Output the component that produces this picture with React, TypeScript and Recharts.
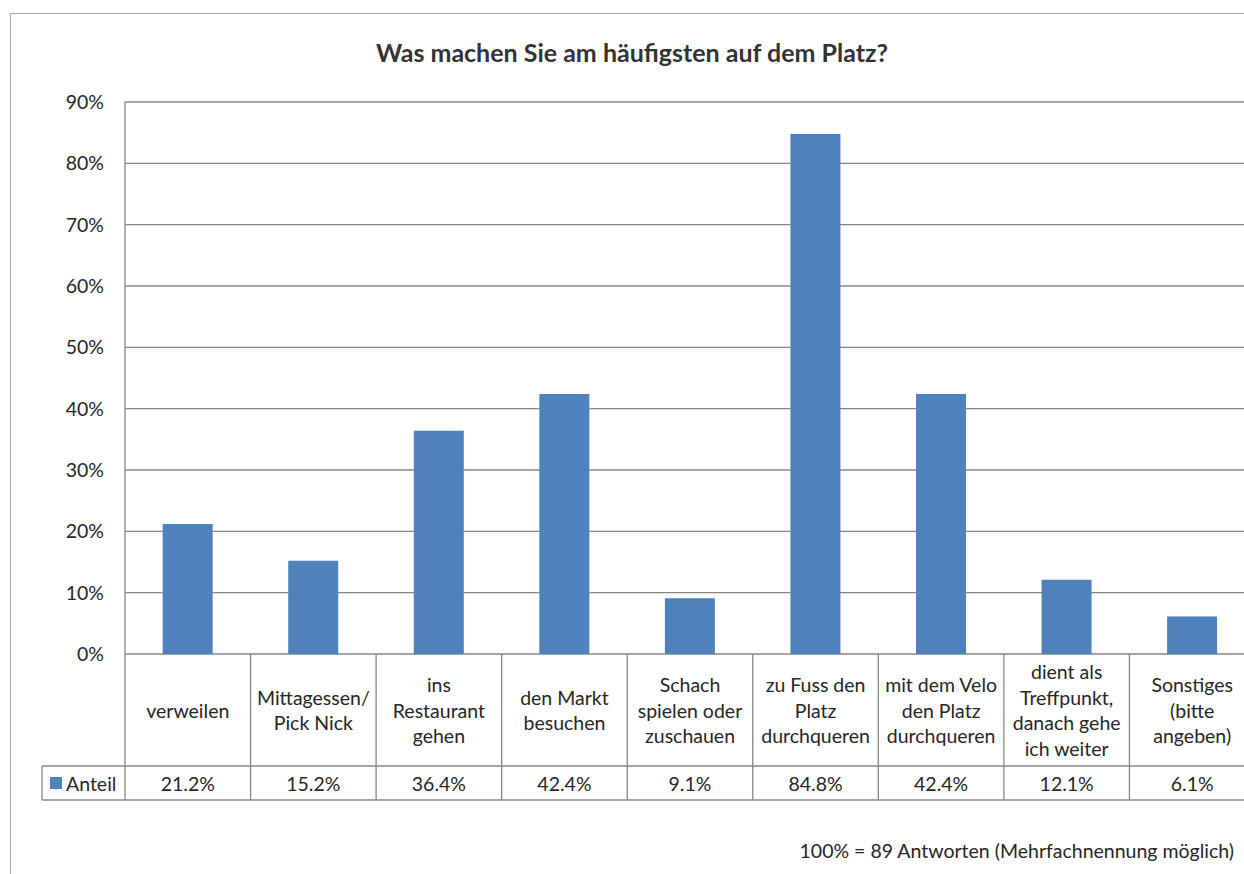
import React from "react";
import { BarChart, Bar, XAxis, YAxis, CartesianGrid } from "recharts";

const categories: string[] = [
  "verweilen",
  "Mittagessen/\nPick Nick",
  "ins\nRestaurant\ngehen",
  "den Markt\nbesuchen",
  "Schach\nspielen oder\nzuschauen",
  "zu Fuss den\nPlatz\ndurchqueren",
  "mit dem Velo\nden Platz\ndurchqueren",
  "dient als\nTreffpunkt,\ndanach gehe\nich weiter",
  "Sonstiges\n(bitte\nangeben)",
];
const anteil: number[] = [21.2, 15.2, 36.4, 42.4, 9.1, 84.8, 42.4, 12.1, 6.1];
const yTicks: number[] = [0, 10, 20, 30, 40, 50, 60, 70, 80, 90];
const seriesName = "Anteil";
const title = "Was machen Sie am häufigsten auf dem Platz?";
const footnote = "100% = 89 Antworten (Mehrfachnennung möglich)";

const data = categories.map((c, i) => ({ name: c, value: anteil[i] }));

const FONT = "Lato, 'Open Sans', sans-serif";
const TEXT = "#262626";
const LINE = "#868686";
const BLUE = "#4F81BD";

const CHART_W = 1300;
const CHART_H = 874;
const M_TOP = 102;
const M_RIGHT = 45;
const Y_W = 125;
const X_H = 146;
const M_BOTTOM = CHART_H - 654 - X_H;
const BAND = (CHART_W - Y_W - M_RIGHT) / categories.length;
const HEAD_H = 112;
const ROW_H = 34;
const LEGEND_X = 42;
const FS = 19.5;
const LH = 25.5;

const TableTick = (props: any) => {
  const { x, y, payload, index } = props;
  const idx = typeof index === "number" ? index : payload.index;
  const left = x - BAND / 2;
  const right = x + BAND / 2;
  const lines = String(payload.value).split("\n");
  const cy = y + HEAD_H / 2;
  const start = cy - ((lines.length - 1) * LH) / 2;
  return (
    <g>
      {idx === 0 && (
        <g>
          <line x1={left} y1={y} x2={left} y2={y + HEAD_H + ROW_H} stroke={LINE} strokeWidth={1.3} />
          <line x1={LEGEND_X} y1={y + HEAD_H} x2={left} y2={y + HEAD_H} stroke={LINE} strokeWidth={1.3} />
          <line x1={LEGEND_X} y1={y + HEAD_H + ROW_H} x2={left} y2={y + HEAD_H + ROW_H} stroke={LINE} strokeWidth={1.3} />
          <line x1={LEGEND_X} y1={y + HEAD_H} x2={LEGEND_X} y2={y + HEAD_H + ROW_H} stroke={LINE} strokeWidth={1.3} />
          <rect x={LEGEND_X + 8} y={y + HEAD_H + ROW_H / 2 - 6} width={12} height={12} fill={BLUE} />
          <text
            x={LEGEND_X + 24}
            y={y + HEAD_H + ROW_H / 2}
            dominantBaseline="central"
            fontFamily={FONT}
            fontSize={FS}
            fill={TEXT}
          >
            {seriesName}
          </text>
        </g>
      )}
      <line x1={right} y1={y} x2={right} y2={y + HEAD_H + ROW_H} stroke={LINE} strokeWidth={1.3} />
      <line x1={left} y1={y + HEAD_H} x2={right} y2={y + HEAD_H} stroke={LINE} strokeWidth={1.3} />
      <line x1={left} y1={y + HEAD_H + ROW_H} x2={right} y2={y + HEAD_H + ROW_H} stroke={LINE} strokeWidth={1.3} />
      <text textAnchor="middle" fontFamily={FONT} fontSize={FS} fill={TEXT}>
        {lines.map((l, i) => (
          <tspan key={i} x={x} y={start + i * LH} dominantBaseline="central">
            {l}
          </tspan>
        ))}
      </text>
      <text
        x={x}
        y={y + HEAD_H + ROW_H / 2}
        textAnchor="middle"
        dominantBaseline="central"
        fontFamily={FONT}
        fontSize={FS}
        fill={TEXT}
      >
        {anteil[idx].toFixed(1) + "%"}
      </text>
    </g>
  );
};

export default function App() {
  return (
    <div
      style={{
        position: "absolute",
        left: 0,
        top: 0,
        width: 1244,
        height: 874,
        overflow: "hidden",
        background: "#fff",
      }}
    >
      <div
        style={{
          position: "absolute",
          left: 10,
          top: 13,
          width: 1400,
          height: 1000,
          border: "1.5px solid #a6a6a6",
        }}
      />
      <div
        style={{
          position: "absolute",
          left: 10,
          top: 35,
          width: 1244,
          textAlign: "center",
          fontFamily: FONT,
          fontWeight: 700,
          fontSize: 25,
          lineHeight: "34px",
          color: "#333",
        }}
      >
        {title}
      </div>
      <div
        style={{
          position: "absolute",
          right: 10,
          top: 839,
          fontFamily: FONT,
          fontSize: FS,
          color: TEXT,
          whiteSpace: "nowrap",
        }}
      >
        {footnote}
      </div>
      <div style={{ position: "absolute", left: 0, top: 0 }}>
        <BarChart
          width={CHART_W}
          height={CHART_H}
          data={data}
          margin={{ top: M_TOP, right: M_RIGHT, left: 0, bottom: M_BOTTOM }}
          barCategoryGap="30%"
        >
          <CartesianGrid vertical={false} stroke={LINE} strokeWidth={1.3} />
          <YAxis
            width={Y_W}
            domain={[0, 90]}
            ticks={yTicks}
            tickFormatter={(v: number) => `${v}%`}
            tickLine={false}
            tickSize={0}
            tickMargin={21}
            axisLine={{ stroke: LINE, strokeWidth: 1.3 }}
            tick={{ fontFamily: FONT, fontSize: FS, fill: TEXT }}
            interval={0}
          />
          <XAxis
            dataKey="name"
            height={X_H}
            axisLine={false}
            tickLine={false}
            tickSize={0}
            tickMargin={0}
            interval={0}
            tick={<TableTick />}
          />
          <Bar dataKey="value" fill={BLUE} isAnimationActive={false} />
        </BarChart>
      </div>
    </div>
  );
}
